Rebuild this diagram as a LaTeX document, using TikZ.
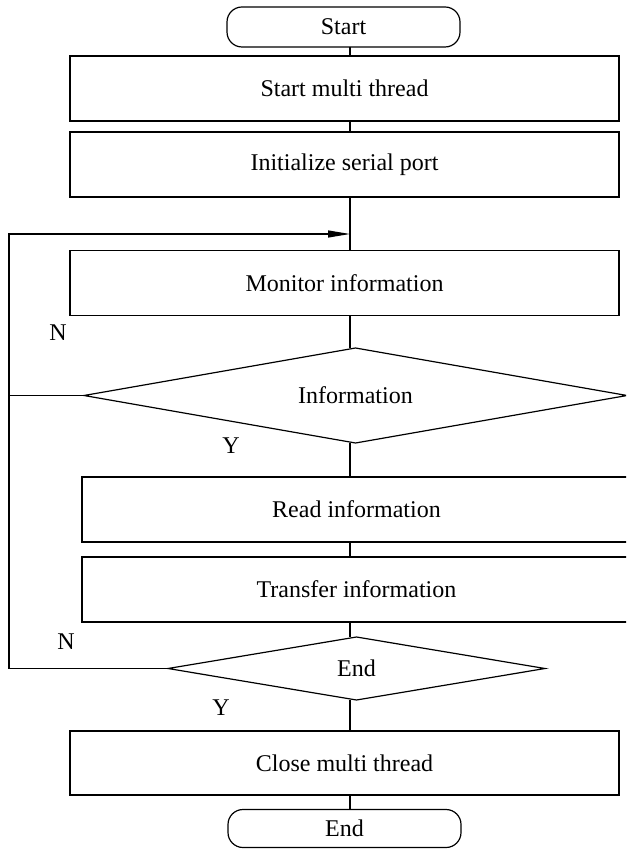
\documentclass[tikz,border=0pt]{standalone}
\usepackage{fontspec}
\setmainfont{Liberation Serif}
\usetikzlibrary{shapes.geometric,arrows.meta}
\begin{document}
\begin{tikzpicture}[x=1pt,y=-1pt,
  every node/.style={font=\fontsize{24}{28}\selectfont},
  box/.style={draw,line width=1.2pt,rectangle,minimum width=549pt,minimum height=65pt,inner sep=0pt,outer sep=0pt},
  term/.style={draw,line width=1.2pt,rectangle,rounded corners=15pt,minimum width=233pt,minimum height=40pt,inner sep=0pt,outer sep=0pt},
  dec/.style={draw,line width=1.2pt,diamond,inner sep=0pt,outer sep=0pt},
  conn/.style={line width=1.2pt},
  lbl/.style={inner sep=0pt}]
\useasboundingbox (0,0) rectangle (626,858);
\clip (0,0) rectangle (626,858);

\node[term] (start) at (343.5,27) {Start};
\node[box] (smt) at (344.5,88.5) {Start multi thread};
\node[box] (init) at (344.5,164.5) {Initialize serial port};
\node[box] (mon) at (344.5,283) {Monitor information};
\node[dec,aspect=5.7,minimum width=543pt,minimum height=95pt] (info) at (355.5,395.5) {Information};
\node[box] (read) at (356.5,509.5) {Read information};
\node[box] (tran) at (356.5,589.5) {Transfer information};
\node[dec,aspect=6,minimum width=377pt,minimum height=63pt] (dend) at (356.5,668.5) {End};
\node[box,minimum height=64pt] (close) at (344.5,763) {Close multi thread};
\node[term,minimum height=38pt] (end) at (344.5,828.5) {End};

\coordinate (ax) at (350,0);
\coordinate (merge) at (350,234);
\coordinate (lt) at (9,234);
\coordinate (lm) at (9,396);

\draw[conn] (start.south -| ax) -- (smt.north -| ax);
\draw[conn] (smt.south -| ax) -- (init.north -| ax);
\draw[conn] (init.south -| ax) -- (mon.north -| ax);
\draw[conn] (mon.south -| ax) -- (info.north -| ax);
\draw[conn] (info.south -| ax) -- (read.north -| ax);
\draw[conn] (read.south -| ax) -- (tran.north -| ax);
\draw[conn] (tran.south -| ax) -- (dend.north -| ax);
\draw[conn] (dend.south -| ax) -- (close.north -| ax);
\draw[conn] (close.south -| ax) -- (end.north -| ax);

\draw[conn,-{Triangle[length=22pt,width=7pt]}] (info.west) -| (lt) -- (merge);
\draw[conn] (dend.west) -| (lm);

\node[lbl] (n1) at (58,333) {N};
\node[lbl] (y1) at (231,446) {Y};
\node[lbl] (n2) at (66,642) {N};
\node[lbl] (y2) at (221,708) {Y};
\end{tikzpicture}
\end{document}
